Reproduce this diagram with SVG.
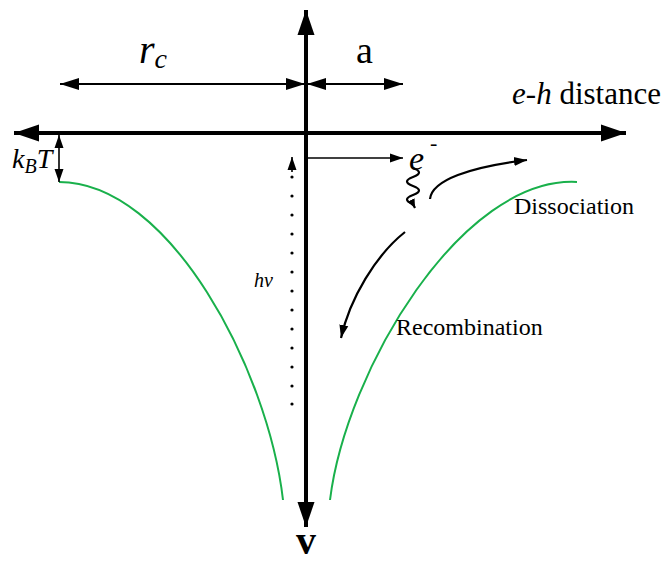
<svg xmlns="http://www.w3.org/2000/svg" width="664" height="562" viewBox="0 0 664 562">
<defs>
<marker id="big" markerUnits="userSpaceOnUse" markerWidth="26" markerHeight="18" refX="25" refY="9" orient="auto-start-reverse"><path d="M0,0.5 L25,9 L0,17.5 z" fill="#000"/></marker>
<marker id="mid" markerUnits="userSpaceOnUse" markerWidth="20" markerHeight="14" refX="19" refY="7" orient="auto-start-reverse"><path d="M0,1 L19,7 L0,13 z" fill="#000"/></marker>
<marker id="small" markerUnits="userSpaceOnUse" markerWidth="14" markerHeight="11" refX="13" refY="5.5" orient="auto-start-reverse"><path d="M0,1 L13,5.5 L0,10 z" fill="#000"/></marker>
<marker id="tiny" markerUnits="userSpaceOnUse" markerWidth="10" markerHeight="9" refX="9" refY="4.5" orient="auto"><path d="M0,0.5 L9,4.5 L0,8.5 z" fill="#000"/></marker>
</defs>
<style>
.ax{stroke:#000;stroke-width:4;fill:none}
.dim{stroke:#000;stroke-width:2.2;fill:none}
.thin{stroke:#000;stroke-width:1.6;fill:none}
.pot{stroke:#19b04b;stroke-width:2;fill:none}
text{font-family:"Liberation Serif","Times New Roman",serif;fill:#000}
.it{font-style:italic}
</style>
<g id="axes">
<line class="ax" x1="306" y1="133" x2="14" y2="133" marker-end="url(#big)"/>
<line class="ax" x1="306" y1="133" x2="626" y2="133" marker-end="url(#big)"/>
<line class="ax" x1="306" y1="133" x2="306" y2="10" marker-end="url(#big)"/>
<line class="ax" x1="306" y1="133" x2="306" y2="527" marker-end="url(#big)"/>
</g>
<g id="potential">
<path class="pot" d="M59,182 C170,182 268,370 283,500"/>
<path class="pot" d="M577,182 C462,176 346,370 330,500"/>
</g>
<g id="connectors">
<line class="dim" x1="60" y1="84" x2="305" y2="84" marker-start="url(#mid)" marker-end="url(#mid)"/>
<line class="dim" x1="307" y1="84" x2="403" y2="84" marker-start="url(#mid)" marker-end="url(#mid)"/>
<line class="thin" x1="59" y1="135" x2="59" y2="182" marker-start="url(#small)" marker-end="url(#small)"/>
<line class="thin" x1="306" y1="158" x2="403" y2="158" marker-end="url(#small)"/>
<path class="dim" d="M413,168 c8,3 8,6 0,9 c-8,3 -8,6 0,9 c8,3 8,6 0,9 c-8,3 -8,6 0,9 l2,4" marker-end="url(#tiny)"/>
<path class="dim" d="M430,199 C432,180 470,167 527,160" marker-end="url(#small)"/>
<path class="dim" d="M405,232 C376,255 350,298 341,338" marker-end="url(#small)"/>
<line class="thin" x1="292" y1="172" x2="292" y2="157" marker-end="url(#small)"/>
<g fill="#000">
<circle cx="292" cy="177" r="1.6"/><circle cx="292" cy="196" r="1.6"/><circle cx="292" cy="215" r="1.6"/><circle cx="292" cy="234" r="1.6"/><circle cx="292" cy="253" r="1.6"/><circle cx="292" cy="272" r="1.6"/><circle cx="292" cy="291" r="1.6"/><circle cx="292" cy="310" r="1.6"/><circle cx="292" cy="329" r="1.6"/><circle cx="292" cy="348" r="1.6"/><circle cx="292" cy="367" r="1.6"/><circle cx="292" cy="386" r="1.6"/><circle cx="292" cy="404" r="1.6"/>
</g>
</g>
<g id="labels">
<text x="139" y="63" font-size="40" class="it">r<tspan font-size="28" dy="5">c</tspan></text>
<text x="356" y="63" font-size="38">a</text>
<text x="661" y="104" font-size="31" text-anchor="end"><tspan class="it">e</tspan>-<tspan class="it">h</tspan> distance</text>
<text x="12" y="168" font-size="28" class="it">k<tspan font-size="20" dy="5">B</tspan><tspan dy="-5">T</tspan></text>
<text x="409" y="170" font-size="34" class="it">e</text>
<text x="430" y="150" font-size="22">-</text>
<text x="514" y="214" font-size="24">Dissociation</text>
<text x="396" y="335" font-size="24">Recombination</text>
<text x="254" y="287" font-size="20" class="it">hv</text>
<text x="306" y="554" font-size="40" font-weight="bold" text-anchor="middle">v</text>
</g>
</svg>
